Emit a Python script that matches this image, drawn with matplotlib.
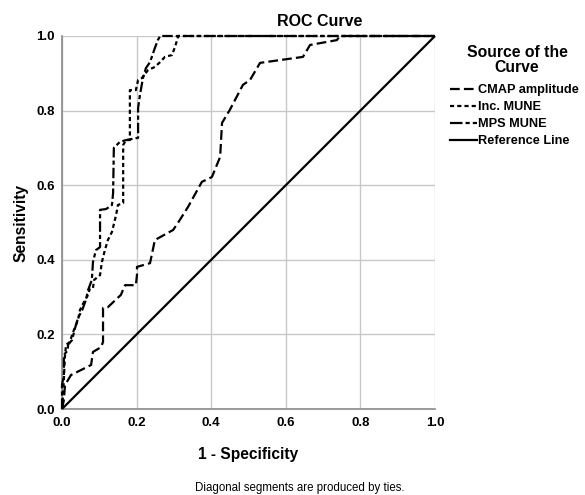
import matplotlib
matplotlib.use("Agg")
import matplotlib.pyplot as plt
from matplotlib.lines import Line2D

plt.rcParams['lines.scale_dashes'] = False
plt.rcParams['font.family'] = ['Liberation Sans', 'DejaVu Sans']

# ---- data (1 - specificity, sensitivity) ----
cmap_fpr = [0, 0.005, 0.008, 0.024, 0.078, 0.083, 0.105, 0.110, 0.110, 0.123, 0.158, 0.169,
            0.198, 0.201, 0.201, 0.236, 0.249, 0.298, 0.316, 0.338, 0.375, 0.402, 0.424,
            0.429, 0.450, 0.485, 0.504, 0.531, 0.646, 0.665, 0.737, 0.745, 1.0]
cmap_tpr = [0, 0.024, 0.064, 0.091, 0.118, 0.153, 0.166, 0.180, 0.271, 0.273, 0.306, 0.332,
            0.332, 0.359, 0.381, 0.391, 0.453, 0.480, 0.507, 0.542, 0.609, 0.622, 0.676,
            0.767, 0.802, 0.869, 0.882, 0.928, 0.944, 0.976, 0.989, 1.0, 1.0]

inc_fpr = [0, 0.003, 0.005, 0.008, 0.011, 0.021, 0.027, 0.032, 0.043, 0.048, 0.059, 0.070,
           0.075, 0.083, 0.086, 0.102, 0.107, 0.115, 0.123, 0.134, 0.145, 0.150, 0.164,
           0.164, 0.172, 0.182, 0.182, 0.198, 0.204, 0.214, 0.231, 0.249, 0.263, 0.276,
           0.295, 0.303, 0.311, 0.311, 1.0]
inc_tpr = [0, 0.038, 0.078, 0.145, 0.172, 0.180, 0.198, 0.212, 0.239, 0.265, 0.287, 0.306,
           0.324, 0.324, 0.346, 0.359, 0.394, 0.426, 0.453, 0.475, 0.520, 0.547, 0.552,
           0.708, 0.721, 0.721, 0.855, 0.855, 0.882, 0.887, 0.909, 0.917, 0.930, 0.944,
           0.949, 0.971, 0.997, 1.0, 1.0]

mps_fpr = [0, 0, 0.005, 0.005, 0.016, 0.016, 0.027, 0.035, 0.043, 0.054, 0.064, 0.070,
           0.080, 0.083, 0.091, 0.102, 0.102, 0.118, 0.134, 0.137, 0.139, 0.155, 0.172,
           0.204, 0.204, 0.209, 0.217, 0.225, 0.236, 0.249, 0.257, 0.263, 1.0]
mps_tpr = [0, 0.064, 0.091, 0.145, 0.158, 0.172, 0.185, 0.217, 0.244, 0.265, 0.292, 0.319,
           0.346, 0.394, 0.426, 0.434, 0.534, 0.536, 0.547, 0.579, 0.700, 0.716, 0.721,
           0.727, 0.807, 0.842, 0.887, 0.914, 0.930, 0.968, 0.989, 1.0, 1.0]

ref_x = [0, 1]
ref_y = [0, 1]

labels = ['CMAP amplitude', 'Inc. MUNE', 'MPS MUNE', 'Reference Line']
ticks = [0.0, 0.2, 0.4, 0.6, 0.8, 1.0]
tick_labels = ['0.0', '0.2', '0.4', '0.6', '0.8', '1.0']

fig = plt.figure(figsize=(5.85, 4.95), dpi=100)
ax = fig.add_axes([62/585, 86/495, 373/585, 373/495])

lw = 1.6
ax.plot(ref_x, ref_y, color='black', lw=lw, solid_capstyle='butt', clip_on=False, zorder=3)
ax.plot(cmap_fpr, cmap_tpr, color='black', lw=lw, dashes=(7, 3), clip_on=False, zorder=4)
ax.plot(inc_fpr, inc_tpr, color='black', lw=lw, dashes=(3, 2.2), clip_on=False, zorder=4)
ax.plot(mps_fpr, mps_tpr, color='black', lw=lw, dashes=(7.5, 2.2, 3, 2.2), clip_on=False, zorder=5)

ax.set_xlim(0, 1)
ax.set_ylim(0, 1)
ax.set_xticks(ticks)
ax.set_yticks(ticks)
ax.set_xticklabels(tick_labels, fontweight='bold', fontsize=9.5)
ax.set_yticklabels(tick_labels, fontweight='bold', fontsize=9.5)
ax.tick_params(axis='x', length=0, pad=6)
ax.tick_params(axis='y', length=0, pad=5)
ax.grid(True, color='#c8c8c8', lw=1.0)
ax.set_axisbelow(True)
for s in ['top', 'right']:
    ax.spines[s].set_visible(False)
for s in ['left', 'bottom']:
    ax.spines[s].set_color('#8a8a8a')
    ax.spines[s].set_linewidth(1.2)

ax.set_xlabel('1 - Specificity', fontsize=11.2, fontweight='bold', labelpad=13)
ax.set_ylabel('Sensitivity', fontsize=11.2, fontweight='bold', labelpad=6)
fig.text(320/585, 1 - 22/495, 'ROC Curve', fontsize=11.5, fontweight='bold', ha='center', va='center')
fig.text(300/585, 1 - 488/495, 'Diagonal segments are produced by ties.', fontsize=8.3,
         ha='center', va='center')

# legend title as separate centered text
fig.text(517/585, 1 - 60/495, 'Source of the\nCurve', fontsize=11.3, fontweight='bold',
         ha='center', va='center', multialignment='center', linespacing=1.05)

h4 = Line2D([], [], color='black', lw=lw)
h1 = Line2D([], [], color='black', lw=lw, dashes=(7, 3))
h2 = Line2D([], [], color='black', lw=lw, dashes=(3, 2.2))
h3 = Line2D([], [], color='black', lw=lw, dashes=(9, 2.2, 3, 2.2))
leg = fig.legend([h1, h2, h3, h4], labels, loc='upper left', bbox_to_anchor=(450/585, 1 - 84/495),
                 frameon=False, prop={'weight': 'bold', 'size': 9.2}, handlelength=2.1,
                 handletextpad=0.1, labelspacing=0.4, borderpad=0, borderaxespad=0)

fig.savefig('out.png', dpi=100)
